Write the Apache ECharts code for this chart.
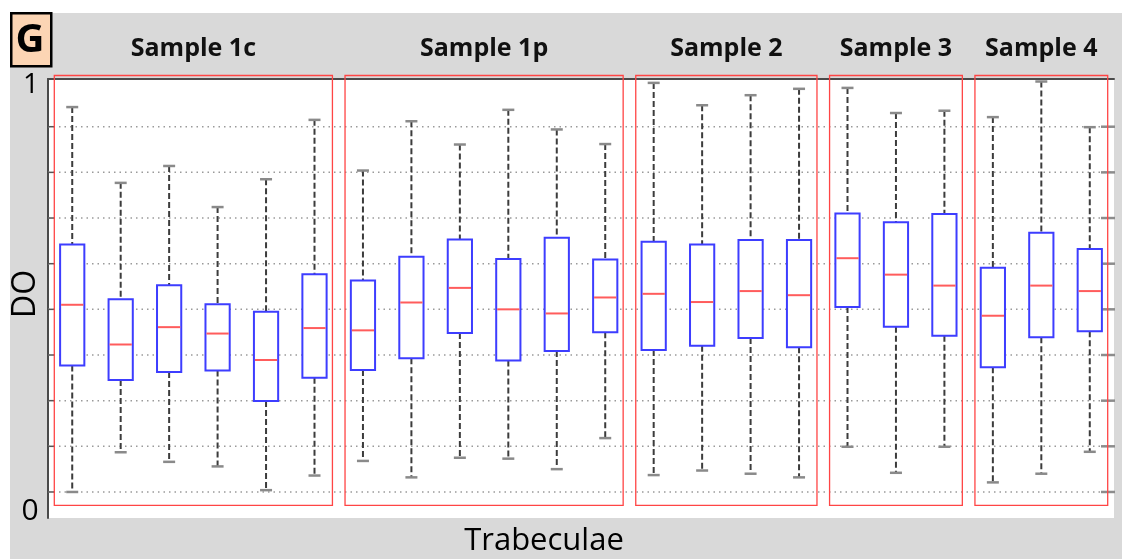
<!DOCTYPE html>
<html><head><meta charset="utf-8">
<script src="https://cdn.jsdelivr.net/npm/echarts@6/dist/echarts.min.js"></script>
<style>
html,body{margin:0;padding:0;background:#fff;}
#wrap{position:relative;width:1128px;height:559px;overflow:hidden;background:#fff;}
#bg{position:absolute;left:10px;top:13px;width:1112px;height:546px;background:#d9d9d9;}
#chart{position:absolute;left:0;top:0;width:1128px;height:559px;}
</style></head><body>
<div id="wrap"><div id="bg"></div><div id="chart"></div></div>
<script>
// ---- data ----
const categories = ['1c-1','1c-2','1c-3','1c-4','1c-5','1c-6',
  '1p-1','1p-2','1p-3','1p-4','1p-5','1p-6',
  '2-1','2-2','2-3','2-4','3-1','3-2','3-3','4-1','4-2','4-3'];
const whiskerLow  = [0.100,0.187,0.166,0.156,0.104,0.136, 0.168,0.132,0.175,0.173,0.150,0.218, 0.137,0.147,0.140,0.132, 0.199,0.142,0.199, 0.121,0.140,0.188];
const q1          = [0.377,0.345,0.363,0.366,0.299,0.350, 0.367,0.393,0.448,0.388,0.409,0.450, 0.411,0.420,0.437,0.417, 0.505,0.462,0.442, 0.373,0.439,0.452];
const median      = [0.510,0.423,0.461,0.447,0.389,0.459, 0.454,0.515,0.547,0.500,0.491,0.526, 0.534,0.516,0.540,0.531, 0.612,0.576,0.552, 0.486,0.552,0.540];
const q3          = [0.642,0.522,0.553,0.511,0.495,0.577, 0.563,0.615,0.653,0.610,0.657,0.609, 0.648,0.642,0.652,0.652, 0.710,0.691,0.709, 0.591,0.668,0.632];
const whiskerHigh = [0.943,0.777,0.814,0.724,0.785,0.915, 0.804,0.912,0.861,0.937,0.894,0.862, 0.996,0.947,0.969,0.983, 0.985,0.930,0.935, 0.921,0.999,0.899];
const groupNames = ['Sample 1c','Sample 1p','Sample 2','Sample 3','Sample 4'];
const groupStart = [0,6,12,16,19];
const groupEnd   = [5,11,15,18,21];
const gridValues = [0.1,0.2,0.3,0.4,0.5,0.6,0.7,0.8,0.9];
const yMin = 0.043, yMax = 1.0045;
const yEndLabels = ['0','1'];
const xTitle = 'Trabeculae';
const yTitle = 'DO';
const panelLetter = 'G';

// ---- rendering ----
const chart = echarts.init(document.getElementById('chart'), null, {renderer:'canvas'});

function renderGrid(params, api){
  const cs = params.coordSys;
  const y = api.coord([0, api.value(1)])[1];
  return {type:'group', children:[
    {type:'line', shape:{x1:cs.x, y1:y, x2:cs.x+cs.width, y2:y},
     style:{stroke:'#9a9a9a', lineWidth:1.5, lineDash:[1.5,4]}},
    {type:'line', shape:{x1:cs.x, y1:y, x2:cs.x+7, y2:y},
     style:{stroke:'#555', lineWidth:1.5}},
    {type:'line', shape:{x1:cs.x+cs.width-13, y1:y, x2:cs.x+cs.width+1, y2:y},
     style:{stroke:'#8c8c8c', lineWidth:2.5}}
  ]};
}

function renderBox(params, api){
  const i = api.value(0);
  const band = api.size([1,0])[0];
  const x = api.coord([i, yMin])[0];
  const yl = api.coord([i, api.value(1)])[1];
  const y1 = api.coord([i, api.value(2)])[1];
  const ym = api.coord([i, api.value(3)])[1];
  const y3 = api.coord([i, api.value(4)])[1];
  const yh = api.coord([i, api.value(5)])[1];
  const bw = band*0.5, cw = 12;
  const wStyle = {stroke:'#3c3c3c', lineWidth:2, lineDash:[6,3]};
  const cStyle = {stroke:'#8a8a8a', lineWidth:2.5};
  return {type:'group', children:[
    {type:'line', shape:{x1:x, y1:yh, x2:x, y2:y3}, style:wStyle},
    {type:'line', shape:{x1:x, y1:y1, x2:x, y2:yl}, style:wStyle},
    {type:'line', shape:{x1:x-cw/2, y1:yh, x2:x+cw/2, y2:yh}, style:cStyle},
    {type:'line', shape:{x1:x-cw/2, y1:yl, x2:x+cw/2, y2:yl}, style:cStyle},
    {type:'rect', shape:{x:x-bw/2, y:y3, width:bw, height:y1-y3},
     style:{fill:'#fff', stroke:'#3d3dff', lineWidth:2}},
    {type:'line', shape:{x1:x-bw/2+1, y1:ym, x2:x+bw/2-1, y2:ym},
     style:{stroke:'#ff5c5c', lineWidth:2}}
  ]};
}

function renderGroup(params, api){
  const cs = params.coordSys;
  const band = api.size([1,0])[0];
  const xl = api.coord([api.value(0), yMin])[0] - band*0.37;
  const xr = api.coord([api.value(1), yMin])[0] + band*0.37;
  const yt = cs.y - 3.5;
  const yb = cs.y + cs.height - 12.7;
  const name = groupNames[params.dataIndex];
  return {type:'group', children:[
    {type:'rect', shape:{x:xl, y:yt, width:xr-xl, height:yb-yt},
     style:{fill:'none', stroke:'#ff4545', lineWidth:1.3}},
    {type:'text', x:(xl+xr)/2, y:cs.y-30,
     style:{text:name, fill:'#111', font:'bold 25px "Open Sans"', align:'center', verticalAlign:'middle'}}
  ]};
}

const option = {
  animation:false,
  backgroundColor:'transparent',
  grid:{left:48, right:14, top:79, bottom:41, show:true, backgroundColor:'#fff', borderWidth:0},
  xAxis:[
    {type:'category', data:categories, boundaryGap:true, position:'bottom',
     axisLine:{show:false}, axisTick:{show:false}, axisLabel:{show:false}, splitLine:{show:false}},
    {type:'category', data:categories, boundaryGap:true, position:'top',
     axisLine:{show:true, lineStyle:{color:'#4a4a4a', width:2}}, axisTick:{show:false}, axisLabel:{show:false}}
  ],
  yAxis:{type:'value', min:yMin, max:yMax,
    axisLine:{show:true, onZero:false, lineStyle:{color:'#4a4a4a', width:2}},
    axisTick:{show:false}, axisLabel:{show:false}, splitLine:{show:false}},
  series:[
    {type:'custom', name:'grid', renderItem:renderGrid, silent:true, z:1,
     data:gridValues.map(v=>[0,v])},
    {type:'custom', name:'frames', renderItem:renderGroup, silent:true, clip:false, z:2,
     data:groupNames.map((n,k)=>[groupStart[k], groupEnd[k]])},
    {type:'custom', name:'DO', renderItem:renderBox, z:3,
     data:categories.map((c,i)=>[i, whiskerLow[i], q1[i], median[i], q3[i], whiskerHigh[i]])}
  ],
  graphic:[
    {type:'rect', left:10, top:12, shape:{width:40, height:53},
     style:{fill:'#fcd5b4', stroke:'#000', lineWidth:2.5}, z:10},
    {type:'text', x:30, y:41, style:{text:panelLetter, font:'bold 40px "Open Sans"', fill:'#000', align:'center', verticalAlign:'middle'}, z:11},
    {type:'text', x:31, y:85, style:{text:yEndLabels[1], font:'28px "Open Sans"', fill:'#000', align:'center', verticalAlign:'middle'}, z:11},
    {type:'text', x:30, y:511, style:{text:yEndLabels[0], font:'30px "Open Sans"', fill:'#000', align:'center', verticalAlign:'middle'}, z:11},
    {type:'text', x:26, y:294, rotation:Math.PI/2, style:{text:yTitle, font:'32px "Open Sans"', fill:'#000', align:'center', verticalAlign:'middle'}, z:11},
    {type:'text', x:544, y:541, style:{text:xTitle, font:'31px "Open Sans"', fill:'#000', align:'center', verticalAlign:'middle'}, z:11}
  ]
};
chart.setOption(option);
</script>
</body></html>
